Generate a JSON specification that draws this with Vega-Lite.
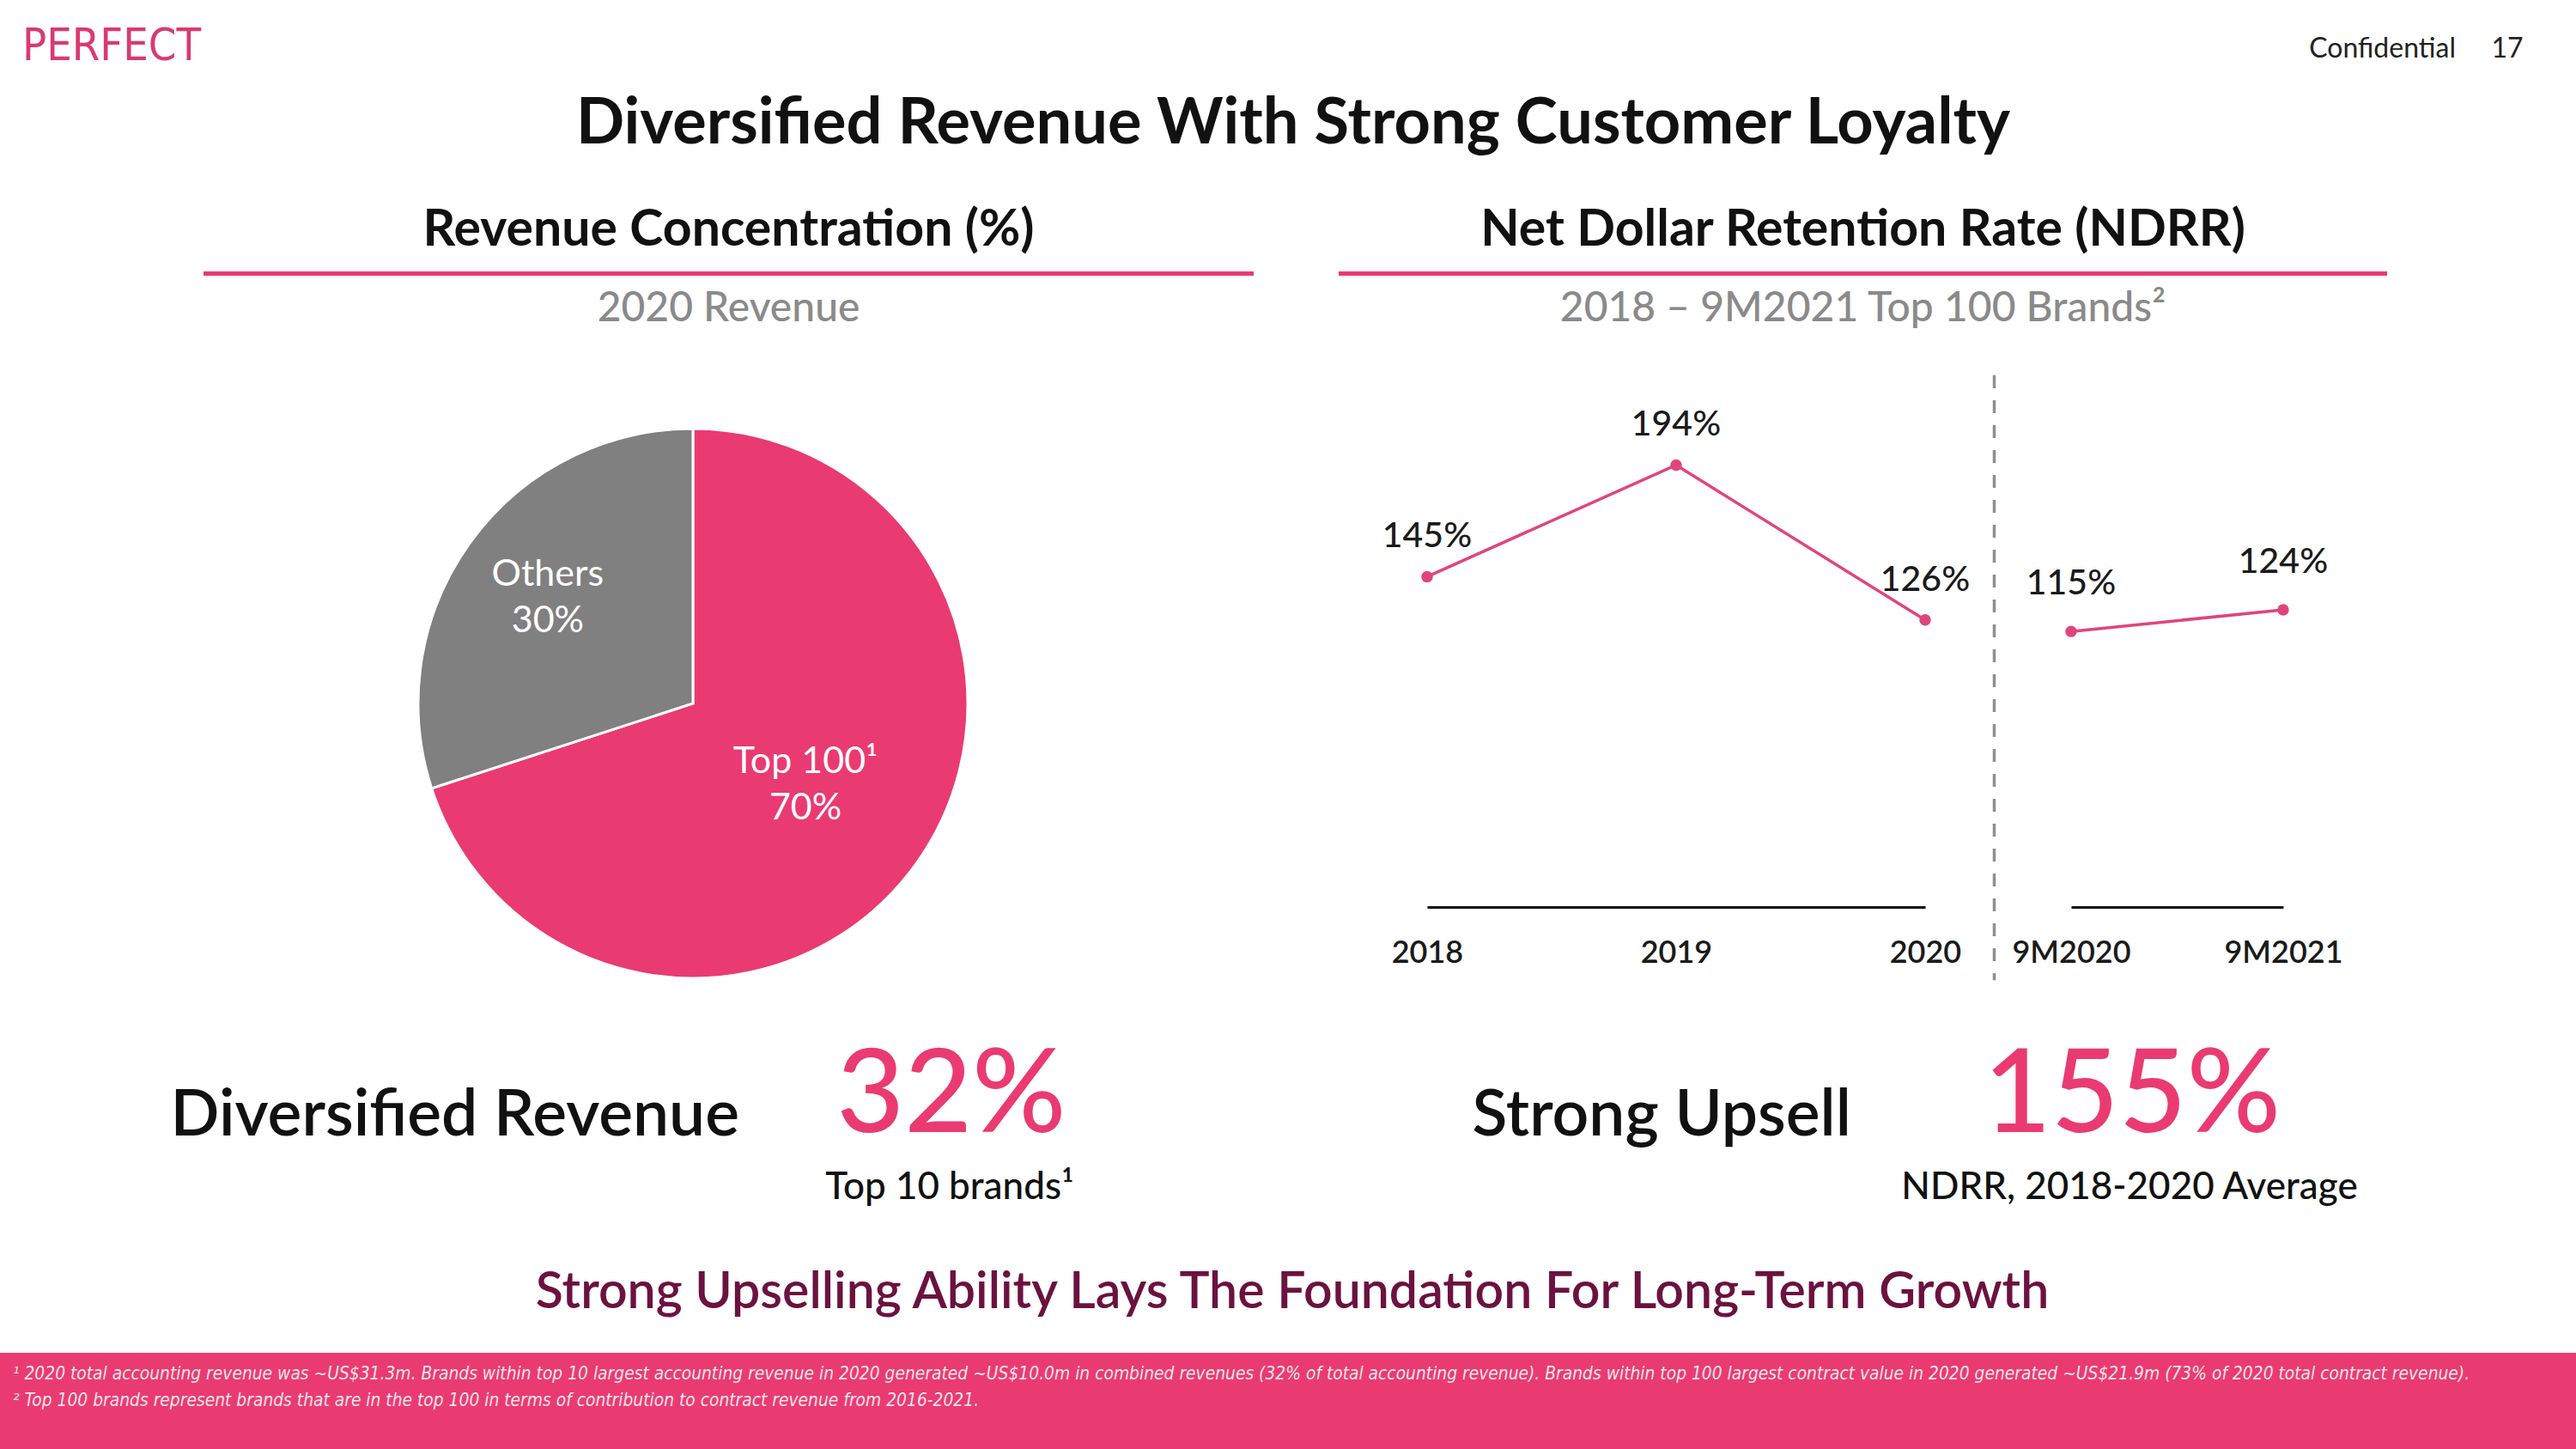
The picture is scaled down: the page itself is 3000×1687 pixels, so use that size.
{
  "$schema": "https://vega.github.io/schema/vega-lite/v6.json",
  "padding": 0,
  "background": "#ffffff",
  "spacing": 0,
  "config": {
    "font": "Lato",
    "view": {"stroke": null},
    "axis": {"grid": false, "labelFont": "Lato"}
  },
  "datasets": {
    "page": [{"logo": "PERFECT", "title": "Diversified Revenue With Strong Customer Loyalty", "label": "Confidential", "page": "17", "tagline": "Strong Upselling Ability Lays The Foundation For Long-Term Growth"}],
    "headings": [
      {"panel": "left", "heading": "Revenue Concentration (%)", "subheading": "2020 Revenue"},
      {"panel": "right", "heading": "Net Dollar Retention Rate (NDRR)", "subheading": "2018 – 9M2021 Top 100 Brands²"}
    ],
    "pie": [
      {"segment": "Top 100¹", "share": 0.7},
      {"segment": "Others", "share": 0.3}
    ],
    "ndrr_annual": [
      {"period": "2018", "ndrr": 1.45},
      {"period": "2019", "ndrr": 1.94},
      {"period": "2020", "ndrr": 1.26}
    ],
    "ndrr_9m": [
      {"period": "9M2020", "ndrr": 1.15},
      {"period": "9M2021", "ndrr": 1.24}
    ],
    "kpi": [
      {"metric": "Diversified Revenue", "value": "32%", "note": "Top 10 brands¹"},
      {"metric": "Strong Upsell", "value": "155%", "note": "NDRR, 2018-2020 Average"}
    ],
    "notes": [
      {"note": ["¹ 2020 total accounting revenue was ~US$31.3m. Brands within top 10 largest accounting revenue in 2020 generated ~US$10.0m in combined revenues (32% of total accounting revenue). Brands within top 100 largest contract value in 2020 generated ~US$21.9m (73% of 2020 total contract revenue).", "² Top 100 brands represent brands that are in the top 100 in terms of contribution to contract revenue from 2016-2021."]}
    ]
  },
  "vconcat": [
    {
      "spacing": 0, "bounds": "flush",
      "hconcat": [
        {"data": {"name": "page"}, "width": 260, "height": 190,
         "mark": {"type": "text", "font": "Liberation Sans Narrow, DejaVu Sans Condensed, Roboto", "fontSize": 52, "color": "#D93A70", "dy": -41},
         "encoding": {"text": {"field": "logo"}}},
        {"data": {"name": "page"}, "width": 2492, "height": 190,
         "mark": {"type": "text", "fontSize": 74, "fontWeight": 700, "color": "#111111", "dy": 50},
         "encoding": {"text": {"field": "title"}}},
        {"data": {"name": "page"}, "width": 248, "height": 190,
         "layer": [
           {"mark": {"type": "text", "align": "right", "fontSize": 32, "color": "#222222", "dx": -16, "dy": -38}, "encoding": {"text": {"field": "label"}}},
           {"mark": {"type": "text", "fontSize": 32, "color": "#222222", "dx": 44, "dy": -38}, "encoding": {"text": {"field": "page"}}}
         ]}
      ]
    },
    {
      "spacing": 0, "bounds": "flush",
      "hconcat": [
        {"data": {"values": []}, "mark": "point", "width": 237, "height": 126},
        {"data": {"name": "headings"}, "transform": [{"filter": "datum.panel === 'left'"}], "width": 1223, "height": 126,
         "mark": {"type": "text", "fontSize": 59, "fontWeight": 700, "color": "#111111", "dy": 15},
         "encoding": {"text": {"field": "heading"}}},
        {"data": {"values": []}, "mark": "point", "width": 99, "height": 126},
        {"data": {"name": "headings"}, "transform": [{"filter": "datum.panel === 'right'"}], "width": 1221, "height": 126,
         "mark": {"type": "text", "fontSize": 59, "fontWeight": 700, "color": "#111111", "dy": 15},
         "encoding": {"text": {"field": "heading"}}}
      ]
    },
    {
      "spacing": 0, "bounds": "flush",
      "hconcat": [
        {"data": {"values": []}, "mark": "point", "width": 237, "height": 5},
        {"data": {"values": []}, "mark": "point", "width": 1223, "height": 5, "view": {"fill": "#EA3A72", "stroke": null}},
        {"data": {"values": []}, "mark": "point", "width": 99, "height": 5},
        {"data": {"values": []}, "mark": "point", "width": 1221, "height": 5, "view": {"fill": "#EA3A72", "stroke": null}}
      ]
    },
    {
      "spacing": 0, "bounds": "flush",
      "hconcat": [
        {"data": {"values": []}, "mark": "point", "width": 237, "height": 115},
        {"data": {"name": "headings"}, "transform": [{"filter": "datum.panel === 'left'"}], "width": 1223, "height": 115,
         "mark": {"type": "text", "fontSize": 48, "fontWeight": 500, "color": "#8a8a8a", "dy": -18.5},
         "encoding": {"text": {"field": "subheading"}}},
        {"data": {"values": []}, "mark": "point", "width": 99, "height": 115},
        {"data": {"name": "headings"}, "transform": [{"filter": "datum.panel === 'right'"}], "width": 1221, "height": 115,
         "mark": {"type": "text", "fontSize": 48, "fontWeight": 500, "color": "#8a8a8a", "dy": -18.5},
         "encoding": {"text": {"field": "subheading"}}}
      ]
    },
    {
      "spacing": 0, "bounds": "flush",
      "hconcat": [
        {"data": {"values": []}, "mark": "point", "width": 487, "height": 10},
        {
          "data": {"name": "pie"}, "width": 640, "height": 762,
          "encoding": {
            "theta": {"field": "share", "type": "quantitative", "stack": true},
            "order": {"field": "share", "sort": "descending"}
          },
          "layer": [
            {"mark": {"type": "arc", "radius": 320, "stroke": "#ffffff", "strokeWidth": 3},
             "encoding": {"color": {"field": "segment", "type": "nominal", "scale": {"domain": ["Top 100¹", "Others"], "range": ["#EA3A72", "#808080"]}, "legend": null}}},
            {"mark": {"type": "text", "fontSize": 43, "color": "#ffffff", "dy": -27},
             "encoding": {
               "radius": {"field": "share", "type": "quantitative", "scale": {"type": "linear", "domain": [0.3, 0.7], "range": [209, 162], "zero": false}},
               "text": {"field": "segment"}}},
            {"mark": {"type": "text", "fontSize": 43, "color": "#ffffff", "dy": 27},
             "encoding": {
               "radius": {"field": "share", "type": "quantitative", "scale": {"type": "linear", "domain": [0.3, 0.7], "range": [209, 162], "zero": false}},
               "text": {"field": "share", "format": ".0%"}}}
          ]
        },
        {"data": {"values": []}, "mark": "point", "width": 535, "height": 10},
        {
          "data": {"name": "ndrr_annual"}, "width": 580, "height": 618,
          "encoding": {
            "x": {"field": "period", "type": "ordinal", "scale": {"type": "point", "padding": 0},
                  "axis": {"title": null, "domainColor": "#111111", "domainWidth": 3, "ticks": false, "labelAngle": 0, "labelFontSize": 36, "labelFontWeight": 600, "labelColor": "#1a1a1a", "labelPadding": 36}},
            "y": {"field": "ndrr", "type": "quantitative", "scale": {"domain": [0, 2.33], "nice": false, "zero": true}, "axis": null}
          },
          "layer": [
            {"mark": {"type": "line", "color": "#E0457A", "strokeWidth": 3.5}},
            {"mark": {"type": "point", "filled": true, "size": 180, "color": "#E0457A", "opacity": 1}},
            {"mark": {"type": "text", "fontSize": 41, "fontWeight": 500, "color": "#1a1a1a", "dy": -46},
             "encoding": {"text": {"field": "ndrr", "format": ".0%"}}}
          ]
        },
        {"data": {"values": []}, "mark": "point", "width": 80, "height": 10},
        {"data": {"values": []}, "mark": "point", "width": 1, "height": 702, "view": {"stroke": "#8f8f8f", "strokeWidth": 2.5, "strokeDash": [15, 14], "fill": null}},
        {"data": {"values": []}, "mark": "point", "width": 89, "height": 10},
        {
          "data": {"name": "ndrr_9m"}, "width": 247, "height": 618,
          "encoding": {
            "x": {"field": "period", "type": "ordinal", "scale": {"type": "point", "padding": 0},
                  "axis": {"title": null, "domainColor": "#111111", "domainWidth": 3, "ticks": false, "labelAngle": 0, "labelFontSize": 36, "labelFontWeight": 600, "labelColor": "#1a1a1a", "labelPadding": 36}},
            "y": {"field": "ndrr", "type": "quantitative", "scale": {"domain": [0, 2.215], "nice": false, "zero": true}, "axis": null}
          },
          "layer": [
            {"mark": {"type": "line", "color": "#E0457A", "strokeWidth": 3.5}},
            {"mark": {"type": "point", "filled": true, "size": 180, "color": "#E0457A", "opacity": 1}},
            {"mark": {"type": "text", "fontSize": 41, "fontWeight": 500, "color": "#1a1a1a", "dy": -55},
             "encoding": {"text": {"field": "ndrr", "format": ".0%"}}}
          ]
        }
      ]
    },
    {
      "spacing": 0, "bounds": "flush",
      "hconcat": [
        {"data": {"name": "kpi"}, "transform": [{"filter": "datum.metric === 'Diversified Revenue'"}], "width": 1500, "height": 242,
         "layer": [
           {"mark": {"type": "text", "align": "right", "fontSize": 75, "fontWeight": 600, "color": "#111111", "dx": 111, "dy": -22}, "encoding": {"text": {"field": "metric"}}},
           {"mark": {"type": "text", "fontSize": 136, "fontWeight": 500, "color": "#EA3A72", "dx": 358, "dy": -44}, "encoding": {"text": {"field": "value"}}},
           {"mark": {"type": "text", "fontSize": 44, "fontWeight": 500, "color": "#111111", "dx": 356, "dy": 62}, "encoding": {"text": {"field": "note"}}}
         ]},
        {"data": {"name": "kpi"}, "transform": [{"filter": "datum.metric === 'Strong Upsell'"}], "width": 1500, "height": 242,
         "layer": [
           {"mark": {"type": "text", "align": "right", "fontSize": 75, "fontWeight": 600, "color": "#111111", "dx": -94, "dy": -22}, "encoding": {"text": {"field": "metric"}}},
           {"mark": {"type": "text", "fontSize": 136, "fontWeight": 500, "color": "#EA3A72", "dx": 233, "dy": -44}, "encoding": {"text": {"field": "value"}}},
           {"mark": {"type": "text", "fontSize": 44, "fontWeight": 500, "color": "#111111", "dx": 230, "dy": 62}, "encoding": {"text": {"field": "note"}}}
         ]}
      ]
    },
    {
      "data": {"name": "page"}, "width": 3000, "height": 133,
      "mark": {"type": "text", "fontSize": 59, "fontWeight": 600, "color": "#6B1240", "dx": 5, "dy": -4},
      "encoding": {"text": {"field": "tagline"}}
    },
    {
      "data": {"name": "notes"}, "width": 3000, "height": 114, "view": {"fill": "#EA3A72", "stroke": null},
      "mark": {"type": "text", "align": "left", "baseline": "top", "font": "Liberation Sans Narrow, DejaVu Sans Condensed, Roboto", "fontStyle": "italic", "fontSize": 20.8, "lineHeight": 31, "color": "#f6e4ea", "dx": -1485, "dy": -42},
      "encoding": {"text": {"field": "note"}}
    }
  ]
}
